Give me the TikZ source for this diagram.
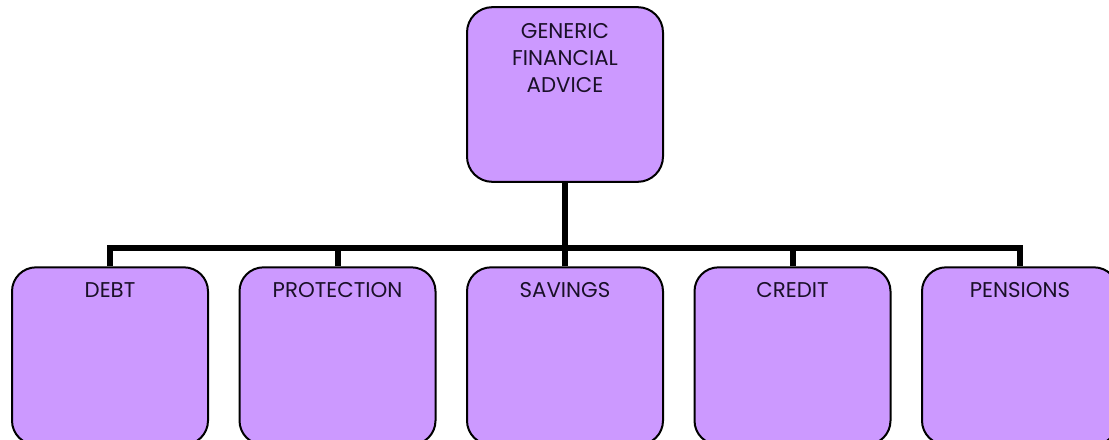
\documentclass[tikz,border=0pt]{standalone}
\usepackage{fontspec}
\setmainfont{Poppins}
\definecolor{boxfill}{HTML}{CC99FF}
\definecolor{txt}{HTML}{1A1028}
\begin{document}
\begin{tikzpicture}[x=0.75pt,y=-0.75pt,
  box/.style={draw=black, line width=1.5pt, fill=boxfill, rounded corners=18pt,
    minimum width=147pt, minimum height=133pt, inner sep=0pt},
  topbox/.style={box, minimum height=131pt, rounded corners=19pt},
  lbl/.style={anchor=north, text=txt, font=\fontsize{16}{20}\selectfont, align=center, inner sep=0pt},
  conn/.style={line width=4.5pt, line join=miter}]
\useasboundingbox (0,0) rectangle (1109,439);
\fill[white] (0,0) rectangle (1109,439);
% nodes
\node[topbox] (top) at (565,94.5) {};
\node[box] (debt) at (110,356) {};
\node[box] (prot) at (337.5,356) {};
\node[box] (sav) at (565,356) {};
\node[box] (cred) at (792.5,356) {};
\node[box] (pens) at (1020,356) {};
\coordinate (bus) at (565,248);
% labels
\node[lbl] (ltop) at ([yshift=-13pt]top.north) {GENERIC\\FINANCIAL\\ADVICE};
\node[lbl] (ldebt) at ([yshift=-12pt]debt.north) {DEBT};
\node[lbl] (lprot) at ([yshift=-12pt]prot.north) {PROTECTION};
\node[lbl] (lsav) at ([yshift=-12pt]sav.north) {SAVINGS};
\node[lbl] (lcred) at ([yshift=-12pt]cred.north) {CREDIT};
\node[lbl] (lpens) at ([yshift=-12pt]pens.north) {PENSIONS};
% connectors
\draw[conn] (top.south) -- (bus);
\draw[conn] (debt.north) -- (debt.north |- bus) -- (pens.north |- bus) -- (pens.north);
\draw[conn] (prot.north) -- (prot.north |- bus);
\draw[conn] (sav.north) -- (sav.north |- bus);
\draw[conn] (cred.north) -- (cred.north |- bus);
\end{tikzpicture}
\end{document}
